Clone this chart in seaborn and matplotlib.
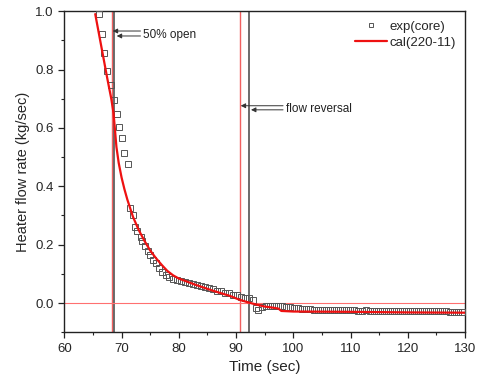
import numpy as np
import matplotlib
matplotlib.use("Agg")
import matplotlib.pyplot as plt
import seaborn as sns
from matplotlib.ticker import MultipleLocator

# measured heater flow (core)
exp_time = [66.1, 66.5, 67.0, 67.5, 68.1, 68.7, 69.15, 69.6, 70.0, 70.5, 71.08,
            71.48, 71.95, 72.35, 72.76, 73.35, 73.63, 74.1, 74.57, 74.97, 75.44,
            75.97, 76.54, 77.12, 77.71, 78.29, 78.94,
            79.6, 80.3, 81.0, 81.7, 82.4, 83.1, 83.8, 84.5, 85.2, 85.9, 86.6,
            87.3, 88.0, 88.7, 89.4, 90.1, 90.8, 91.5, 92.2, 92.9, 93.4, 93.9,
            94.5, 95.2, 95.9, 96.6, 97.3, 98.0, 98.7, 99.4, 100.1, 100.8, 101.5,
            102.2, 102.9, 103.6, 104.3, 105.0, 105.7, 106.4, 107.1, 107.8, 108.5,
            109.2, 109.9, 110.6, 111.3, 112.0, 112.7, 113.4, 114.1, 114.8, 115.5,
            116.2, 116.9, 117.6, 118.3, 119.0, 119.7, 120.4, 121.1, 121.8, 122.5,
            123.2, 123.9, 124.6, 125.3, 126.0, 126.7, 127.4, 128.1, 128.8, 129.5]
exp_flow = [0.990, 0.922, 0.858, 0.796, 0.747, 0.696, 0.647, 0.603, 0.567, 0.514, 0.478,
            0.324, 0.303, 0.261, 0.246, 0.227, 0.212, 0.195, 0.178, 0.163, 0.149,
            0.136, 0.121, 0.108, 0.096, 0.088, 0.083,
            0.079, 0.076, 0.073, 0.069, 0.066, 0.062, 0.058, 0.055, 0.051, 0.047, 0.043,
            0.040, 0.036, 0.033, 0.029, 0.026, 0.022, 0.019, 0.016, 0.010, -0.018, -0.024,
            -0.014, -0.010, -0.009, -0.009, -0.010, -0.011, -0.012, -0.014, -0.016, -0.018, -0.020,
            -0.021, -0.022, -0.023, -0.023, -0.024, -0.024, -0.024, -0.025, -0.025, -0.025,
            -0.025, -0.025, -0.025, -0.026, -0.026, -0.025, -0.026, -0.026, -0.026, -0.026,
            -0.026, -0.026, -0.027, -0.026, -0.027, -0.027, -0.027, -0.027, -0.027, -0.028,
            -0.027, -0.028, -0.028, -0.028, -0.028, -0.028, -0.029, -0.029, -0.029, -0.029]

# calculation (220-11)
cal_time = [65.4, 66.5, 67.5, 68.2, 68.6, 69.1, 69.5, 70.0, 70.5, 71.0, 72.0, 73.0,
            74.0, 75.0, 76.0, 77.0, 78.0, 79.0, 80.0, 81.5, 83.0, 84.5, 86.0, 87.5,
            89.0, 90.5, 92.0, 93.5, 95.0, 96.5, 97.4, 97.9, 100.0, 110.0, 120.0, 130.0]
cal_flow = [0.990, 0.875, 0.770, 0.700, 0.650, 0.535, 0.480, 0.430, 0.390, 0.355, 0.295, 0.250,
            0.213, 0.180, 0.154, 0.131, 0.110, 0.095, 0.084, 0.073, 0.062, 0.052, 0.042, 0.033,
            0.024, 0.012, 0.003, -0.005, -0.012, -0.016, -0.019, -0.027, -0.029, -0.030, -0.032, -0.033]

# event markers
open_red, open_blk = 68.3, 68.65
rev_red, rev_blk = 90.75, 92.25

sns.set_style("ticks")
plt.rcParams["font.family"] = ["Liberation Sans", "DejaVu Sans"]

fig = plt.figure(figsize=(4.8, 3.85), dpi=100)
ax = fig.add_axes([0.134, 0.137, 0.835, 0.834])

ax.axhline(0.0, color="#ff7070", lw=0.8, zorder=2)
ax.axvline(open_red, color="#f06060", lw=1.0, zorder=1)
ax.axvline(open_blk, color="#444444", lw=1.1, zorder=1)
ax.axvline(rev_red, color="#f06060", lw=1.0, zorder=1)
ax.axvline(rev_blk, color="#444444", lw=1.1, zorder=1)

sns.lineplot(x=exp_time, y=exp_flow, ax=ax, estimator=None, sort=False,
             linestyle="", marker="s", markersize=4.2, markerfacecolor="none",
             markeredgecolor="#555555", markeredgewidth=0.7, color="#555555",
             label="exp(core)", zorder=3)
sns.lineplot(x=cal_time, y=cal_flow, ax=ax, estimator=None, sort=False,
             color="#ee1111", lw=1.6, label="cal(220-11)", zorder=4)

arrow_kw = dict(arrowstyle="-|>", color="#333333", lw=0.7, mutation_scale=7,
                shrinkA=0, shrinkB=0)
ax.annotate("", xy=(68.45, 0.932), xytext=(73.3, 0.932), arrowprops=arrow_kw)
ax.annotate("", xy=(69.15, 0.915), xytext=(73.3, 0.915), arrowprops=arrow_kw)
ax.text(73.8, 0.918, "50% open", fontsize=8.5, va="center", ha="left", color="#222222")

ax.annotate("", xy=(90.8, 0.676), xytext=(98.2, 0.676), arrowprops=arrow_kw)
ax.annotate("", xy=(92.6, 0.662), xytext=(98.2, 0.662), arrowprops=arrow_kw)
ax.text(98.8, 0.666, "flow reversal", fontsize=8.5, va="center", ha="left", color="#222222")

ax.set_xlim(60, 130)
ax.set_ylim(-0.1, 1.0)
ax.xaxis.set_major_locator(MultipleLocator(10))
ax.xaxis.set_minor_locator(MultipleLocator(5))
ax.yaxis.set_major_locator(MultipleLocator(0.2))
ax.yaxis.set_minor_locator(MultipleLocator(0.1))
ax.yaxis.set_major_formatter(matplotlib.ticker.FormatStrFormatter("%.1f"))
ax.tick_params(which="major", direction="out", length=4, width=0.9, labelsize=9.5, color="#222222")
ax.tick_params(which="minor", direction="out", length=2.5, width=0.8, color="#222222")
for s in ax.spines.values():
    s.set_linewidth(1.0)
    s.set_color("#222222")

ax.set_xlabel("Time (sec)", fontsize=11)
ax.set_ylabel("Heater flow rate (kg/sec)", fontsize=10.5)

ax.legend(loc="upper right", frameon=False, fontsize=9.5, handlelength=2.4,
          handletextpad=0.2, borderaxespad=0.3, labelspacing=0.3, markerscale=0.8)

fig.savefig("out.png", dpi=100)
